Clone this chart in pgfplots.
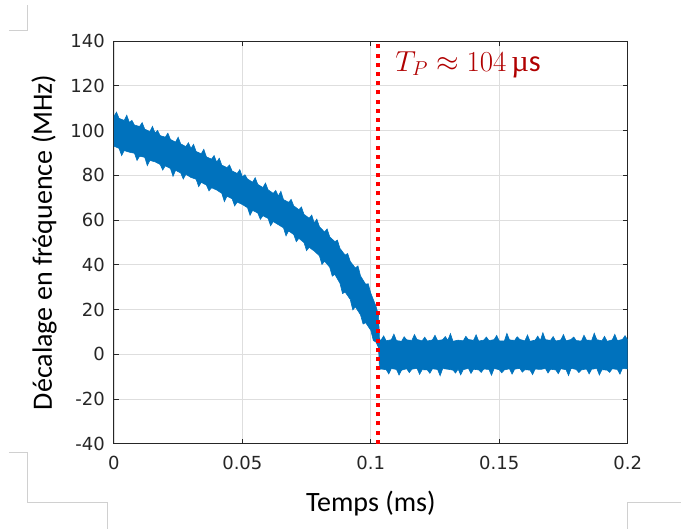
\documentclass[border=0pt]{standalone}
\usepackage{fontspec}
\usepackage{pgfplots}
\usepackage{pgfplotstable}
\pgfplotsset{compat=1.18}
\usepgfplotslibrary{fillbetween}
\setmainfont{Carlito}
\newfontfamily\tickfont{DejaVu Sans}
\newfontfamily\lserif{Liberation Serif}
\definecolor{mblue}{HTML}{0072BD}
\definecolor{axgray}{HTML}{262626}
\definecolor{tpred}{HTML}{B00000}
\definecolor{cropgray}{HTML}{D0D0D0}

\pgfplotstableread{
x y
0.000 106.3
0.001 108.2
0.002 105.4
0.004 104.5
0.005 106.8
0.006 103.6
0.007 104.5
0.008 102.4
0.010 101.8
0.011 103.5
0.012 100.6
0.014 99.5
0.015 101.8
0.016 98.9
0.017 100.0
0.018 97.7
0.020 97.0
0.021 98.8
0.022 96.0
0.024 94.8
0.025 97.0
0.026 94.0
0.028 92.8
0.029 94.5
0.030 92.0
0.031 93.8
0.032 90.6
0.034 89.6
0.035 91.6
0.036 88.2
0.038 87.2
0.039 88.8
0.040 85.8
0.041 87.6
0.042 84.5
0.044 83.4
0.045 84.6
0.046 81.9
0.048 80.8
0.049 82.5
0.050 79.3
0.051 80.2
0.052 78.3
0.054 76.9
0.055 78.9
0.056 75.9
0.058 74.5
0.059 76.5
0.060 73.5
0.062 71.9
0.063 73.2
0.064 70.7
0.065 72.8
0.066 69.1
0.068 67.9
0.069 69.2
0.070 66.3
0.072 64.6
0.073 65.8
0.074 62.5
0.076 60.8
0.077 62.2
0.078 58.7
0.079 60.4
0.080 57.0
0.082 54.6
0.083 56.0
0.084 52.5
0.086 50.3
0.087 51.0
0.088 47.3
0.090 44.3
0.091 45.0
0.092 41.5
0.094 38.5
0.095 39.5
0.096 35.0
0.098 31.3
0.099 31.5
0.100 27.3
0.102 21.5
0.1030 17.5
0.1034 6.5
0.104 6.3
0.105 8.2
0.106 6.0
0.108 6.5
0.109 9.0
0.110 6.1
0.112 5.8
0.113 7.8
0.114 6.4
0.116 6.2
0.117 8.8
0.118 6.6
0.120 6.0
0.121 7.6
0.122 5.9
0.124 6.4
0.125 8.5
0.126 6.1
0.128 6.5
0.129 7.9
0.130 6.2
0.131 9.2
0.132 5.8
0.134 6.3
0.136 6.0
0.137 8.0
0.138 6.6
0.140 6.2
0.141 8.7
0.142 5.9
0.144 6.3
0.145 7.7
0.146 6.1
0.148 6.5
0.149 8.4
0.150 6.0
0.152 5.9
0.153 9.3
0.154 6.4
0.156 6.2
0.157 7.8
0.158 6.6
0.160 6.0
0.161 8.6
0.162 5.8
0.164 6.3
0.165 8.1
0.166 6.1
0.167 9.6
0.168 6.5
0.170 6.2
0.171 7.9
0.172 5.9
0.174 6.4
0.175 8.8
0.176 6.0
0.178 6.6
0.179 7.7
0.180 6.1
0.182 5.9
0.183 8.5
0.184 6.3
0.186 6.2
0.187 9.4
0.188 6.5
0.190 6.0
0.191 8.0
0.192 5.8
0.194 6.4
0.195 8.9
0.196 6.1
0.198 6.6
0.199 8.3
0.200 6.3
}\upperdata

\pgfplotstableread{
x y
0.000 93.0
0.002 92.0
0.003 88.8
0.004 91.0
0.006 90.3
0.008 89.8
0.009 86.6
0.010 88.5
0.012 88.0
0.013 84.3
0.014 86.6
0.016 86.0
0.018 84.8
0.019 82.3
0.020 84.2
0.022 83.0
0.023 79.5
0.024 82.2
0.026 81.0
0.027 78.3
0.028 80.4
0.030 79.0
0.032 78.2
0.033 74.9
0.034 76.8
0.036 75.6
0.037 73.0
0.038 74.4
0.040 73.4
0.042 71.9
0.043 68.2
0.044 70.6
0.046 69.5
0.047 66.3
0.048 68.0
0.050 66.9
0.052 65.5
0.053 62.1
0.054 64.3
0.056 63.1
0.057 60.3
0.058 61.9
0.060 60.7
0.061 57.4
0.062 59.3
0.064 57.9
0.066 56.5
0.067 52.9
0.068 55.1
0.070 53.5
0.071 50.3
0.072 51.8
0.074 49.9
0.075 46.3
0.076 47.8
0.078 46.1
0.080 44.0
0.081 40.1
0.082 41.6
0.084 38.9
0.085 34.9
0.086 35.7
0.088 31.7
0.089 27.1
0.090 27.8
0.092 24.5
0.093 19.8
0.094 21.2
0.096 17.6
0.097 13.5
0.098 14.1
0.100 10.7
0.101 6.1
0.102 5.5
0.1030 3.0
0.1034 -6.8
0.104 -6.6
0.106 -6.9
0.107 -8.8
0.108 -6.4
0.110 -6.8
0.111 -9.3
0.112 -7.1
0.114 -6.5
0.115 -8.2
0.116 -6.7
0.118 -6.3
0.119 -9.0
0.120 -6.9
0.122 -7.0
0.123 -8.5
0.124 -6.5
0.126 -6.8
0.127 -9.6
0.128 -6.4
0.130 -6.7
0.132 -7.1
0.133 -8.4
0.134 -6.6
0.135 -9.2
0.136 -6.9
0.138 -6.3
0.139 -8.6
0.140 -6.7
0.142 -7.0
0.143 -8.1
0.144 -6.6
0.146 -6.8
0.147 -9.4
0.148 -6.4
0.150 -6.9
0.151 -8.3
0.152 -7.0
0.154 -6.5
0.155 -8.9
0.156 -6.7
0.158 -6.3
0.159 -8.0
0.160 -6.9
0.162 -7.1
0.163 -9.1
0.164 -6.6
0.166 -6.8
0.168 -6.4
0.169 -8.4
0.170 -6.7
0.172 -7.0
0.173 -8.7
0.174 -6.5
0.176 -6.9
0.177 -9.5
0.178 -6.3
0.180 -6.8
0.181 -8.2
0.182 -7.0
0.184 -6.6
0.185 -8.8
0.186 -6.7
0.188 -6.4
0.189 -9.3
0.190 -6.9
0.192 -7.1
0.193 -8.1
0.194 -6.5
0.196 -6.8
0.197 -8.9
0.198 -6.3
0.200 -6.6
}\lowerdata

\begin{document}
\begin{tikzpicture}
\begin{axis}[name=ax, scale only axis, width=514bp, height=403bp,
  xmin=0, xmax=0.2, ymin=-40, ymax=140,
  scaled x ticks=false, scaled y ticks=false,
  xtick={0,0.05,0.1,0.15,0.2}, xticklabels={0,0.05,0.1,0.15,0.2},
  ytick={-40,-20,0,20,40,60,80,100,120,140},
  yticklabels={-40,-20,0,20,40,60,80,100,120,140},
  grid=major, major grid style={color=black!13, line width=0.6bp},
  axis line style={color=axgray, line width=0.9bp},
  tick style={color=axgray, line width=0.9bp}, major tick length=5bp,
  tick align=inside,
  /pgf/number format/assume math mode=true,
  tick label style={font=\tickfont\fontsize{18bp}{20bp}\selectfont, text=axgray},
  xticklabel style={inner sep=0pt, yshift=-12bp},
  yticklabel style={inner sep=0pt, xshift=-9bp},
  xlabel={Temps (ms)}, ylabel={Décalage en fréquence (MHz)},
  label style={font=\fontsize{28bp}{32bp}\selectfont, text=black},
  xlabel style={at={(axis description cs:0.5,-0.1687)}, anchor=base},
  ylabel style={at={(axis description cs:-0.1206,0.5)}, anchor=base},
]
\addplot[mblue, line width=0.6bp, name path=U] table[x=x,y=y]{\upperdata};
\addplot[mblue, line width=0.6bp, name path=L] table[x=x,y=y]{\lowerdata};
\addplot[fill=mblue, draw=none] fill between[of=U and L];
\addplot[color=red, line width=4bp, dash pattern=on 4bp off 5.2bp] coordinates {(0.103,-40) (0.103,140)};
\node[anchor=base west, text=tpred, font=\fontsize{26bp}{30bp}\selectfont, inner sep=0pt]
  at (axis cs:0.1095,126.5) {\scalebox{1.17}{$T_P \approx 104\,\mbox{\lserif µ}\mathrm{s}$}};
\end{axis}
\begin{scope}[shift={(ax.south west)}, x=1bp, y=1bp]
\draw[cropgray, line width=0.8bp] (-105,414) -- (-87,414) -- (-87,439);
\draw[cropgray, line width=0.8bp] (-105,-8.7) -- (-86.7,-8.7) -- (-86.7,-58.3) -- (-6.7,-58.3) -- (-6.7,-85);
\draw[cropgray, line width=0.8bp] (513.3,-85) -- (513.3,-58.3) -- (567,-58.3);
\path (-114,-85) rectangle (567,444);
\end{scope}
\end{tikzpicture}
\end{document}
